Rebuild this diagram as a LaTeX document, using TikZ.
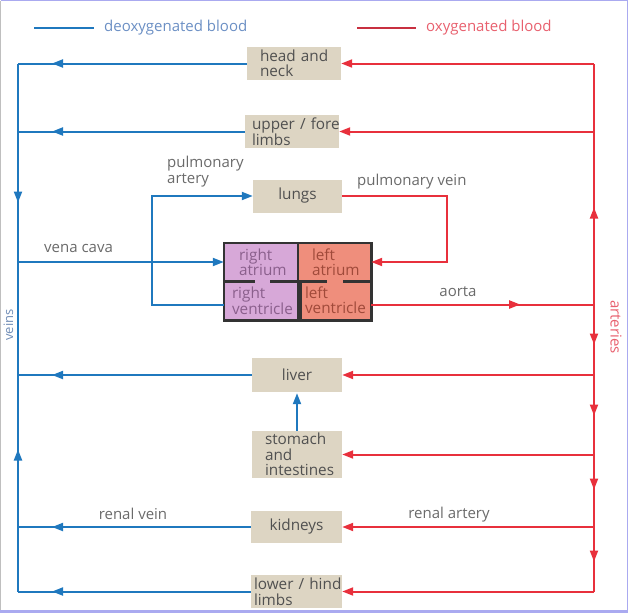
\documentclass[tikz,border=0pt]{standalone}
\usepackage{fontspec}
\setmainfont{Open Sans}
\usetikzlibrary{arrows.meta,decorations.markings}
\definecolor{bl}{HTML}{1F78BE}
\definecolor{rd}{HTML}{E8303C}
\definecolor{tanbox}{HTML}{DDD5C3}
\definecolor{pur}{HTML}{D7A8D8}
\definecolor{sal}{HTML}{EF8E7C}
\definecolor{txt}{HTML}{505050}
\definecolor{lbl}{HTML}{6A6A6A}
\definecolor{purtxt}{HTML}{8A5F8C}
\definecolor{saltxt}{HTML}{A04A3A}
\definecolor{legb}{HTML}{6B8FC4}
\definecolor{legr}{HTML}{E8606E}
\definecolor{legrl}{HTML}{C83040}
\definecolor{frame}{HTML}{AAAAF0}
\begin{document}
\begin{tikzpicture}[x=1pt,y=-1pt,
  >={Triangle[length=11pt,width=8pt]},
  bline/.style={draw=bl,line width=2pt},
  rline/.style={draw=rd,line width=2pt},
  mk/.style={postaction={decorate},decoration={markings,mark=at position #1 with {\arrow{>}}}},
  box/.style={fill=tanbox,text=txt,align=left,inner ysep=0pt,font=\fontsize{15.3}{15.5}\selectfont},
  chamber/.style={inner ysep=0pt,align=left,font=\fontsize{15.3}{15}\selectfont},
  lab/.style={text=lbl,font=\fontsize{15}{16}\selectfont,inner sep=0pt},
  heartline/.style={draw=black!80,line width=2.6pt}
]
\useasboundingbox (0,0) rectangle (628,614);
\draw[frame,line width=1.2pt] (0.6,0.6) -- (627.4,0.6) -- (627.4,611);
\draw[frame,line width=3pt] (0,611.5) -- (628,611.5);
\draw[black!25,line width=0.6pt] (0.6,0.6) -- (0.6,610);

% legend
\coordinate (lb1) at (34,28); \coordinate (lb2) at (94,28);
\coordinate (lr1) at (357,28); \coordinate (lr2) at (416,28);
\draw[bline] (lb1) -- (lb2);
\draw[draw=legrl,line width=2pt] (lr1) -- (lr2);
\node[anchor=west,inner sep=0pt,text=legb,font=\fontsize{15}{16}\selectfont] (legd) at (104,28) {deoxygenated blood};
\node[anchor=west,inner sep=0pt,text=legr,font=\fontsize{15}{16}\selectfont] (lego) at (426,28) {oxygenated blood};

% organ boxes
\node[box,minimum height=33pt,text width=68pt,inner xsep=13pt] (head) at (294,63.5) {\mbox{head and}\\neck};
\node[box,minimum height=33pt,text width=80pt,inner xsep=7pt] (upper) at (292,131.5) {\mbox{upper / fore}\\limbs};
\node[box,minimum height=33pt,text width=79pt,inner xsep=5pt,align=center] (lungs) at (297.5,196) {lungs};
\node[box,minimum height=34pt,text width=80pt,inner xsep=5pt,align=center] (liver) at (297,375) {liver};
\node[box,minimum height=47pt,text width=64pt,inner xsep=13pt] (stomach) at (297,454.5) {\mbox{stomach}\\and\\\mbox{intestines}};
\node[box,minimum height=32pt,text width=81pt,inner xsep=5pt,align=center] (kidneys) at (296.5,527) {kidneys};
\node[box,minimum height=33pt,text width=85pt,inner xsep=3pt] (lower) at (296.5,591.5) {\mbox{lower / hind}\\limbs};

% heart
\node[chamber,fill=pur,text=purtxt,minimum height=38pt,text width=44pt,inner xsep=15pt] (ra) at (261,262) {right\\\mbox{atrium}};
\node[chamber,fill=pur,text=purtxt,minimum height=39pt,text width=58pt,inner xsep=8pt] (rv) at (261,300.5) {right\\\mbox{ventricle}};
\node[chamber,fill=sal,text=saltxt,minimum height=38pt,text width=45pt,inner xsep=14pt] (la) at (334.5,262) {left\\\mbox{atrium}};
\node[chamber,fill=sal,text=saltxt,minimum height=39pt,text width=59pt,inner xsep=7pt] (lv) at (334.5,300.5) {left\\\mbox{ventricle}};
\draw[heartline,line width=1.8pt] (ra.north east) -- (rv.south east);
\draw[heartline] (ra.south west) -- ++(31,0);
\draw[heartline] (ra.south east) -- ++(-28,0);
\draw[heartline] (la.south west) -- ++(29,0);
\draw[heartline] (la.south east) -- ++(-28,0);
\draw[heartline] ([xshift=2.5pt]lv.north west) -- ([xshift=2.5pt]lv.south west);
\draw[heartline] (ra.north west) rectangle (lv.south east);

% junction coordinates
\coordinate (vx) at (18,0);
\coordinate (ax) at (594,0);
\coordinate (pa) at (152,0);
\coordinate (pv) at (447,0);
\coordinate (vh) at (head.west -| vx);
\coordinate (vu) at (upper.west -| vx);
\coordinate (vc) at (ra.west -| vx);
\coordinate (vli) at (liver.west -| vx);
\coordinate (vk) at (kidneys.west -| vx);
\coordinate (vlo) at (lower.west -| vx);
\coordinate (ah) at (head.east -| ax);
\coordinate (au) at (upper.east -| ax);
\coordinate (aj) at ([yshift=-4pt]lv.east -| ax);
\coordinate (ali) at (liver.east -| ax);
\coordinate (ast) at (stomach.east -| ax);
\coordinate (ak) at (kidneys.east -| ax);
\coordinate (alo) at (lower.east -| ax);
\coordinate (pa1) at ([yshift=-4pt]rv.west -| pa);
\coordinate (pa2) at (lungs.west -| pa);
\coordinate (pv1) at (lungs.east -| pv);
\coordinate (pv2) at (la.east -| pv);

% deoxygenated (blue)
\draw[bline,mk=-34pt] (head.west) -- (vh);
\draw[bline,mk=-34pt] (upper.west) -- (vu);
\draw[bline,mk=-34pt] (liver.west) -- (vli);
\draw[bline,mk=-34pt] (kidneys.west) -- (vk);
\draw[bline,mk=-34pt] (lower.west) -- (vlo);
\draw[bline,mk=139pt] (vh) -- (vc);
\draw[bline,mk=142pt] (vlo) -- (vc);
\draw[bline,->] (vc) -- (ra.west);
\draw[bline,->] ([yshift=-4pt]rv.west) -- (pa1) -- (pa2) -- (lungs.west);
\draw[bline,->,shorten >=1pt] (stomach.north) -- (liver.south);

% oxygenated (red)
\draw[rline,->] (lungs.east) -- (pv1) -- (pv2) -- (la.east);
\draw[rline,mk=149pt] ([yshift=-4pt]lv.east) -- (aj);
\draw[rline,mk=97pt] (aj) -- (ah);
\draw[rline,postaction={decorate},decoration={markings,
  mark=at position 40pt with {\arrow{>}},
  mark=at position 111pt with {\arrow{>}},
  mark=at position 185pt with {\arrow{>}},
  mark=at position 257pt with {\arrow{>}}}] (aj) -- (alo);
\draw[rline,->] (ah) -- (head.east);
\draw[rline,->] (au) -- (upper.east);
\draw[rline,->] (ali) -- (liver.east);
\draw[rline,->] (ast) -- (stomach.east);
\draw[rline,->] (ak) -- (kidneys.east);
\draw[rline,->] (alo) -- (lower.east);

% labels
\node[lab,anchor=north west,align=left] (lpa) at (167,156) {pulmonary\\artery};
\node[lab,anchor=west] (lpv) at (357,182) {pulmonary vein};
\node[lab,anchor=west] (lvc) at (44,248) {vena cava};
\node[lab] (lao) at (458,292) {aorta};
\node[lab] (lrv) at (133,514) {renal vein};
\node[lab] (lra) at (449,515) {renal artery};
\node[lab,text=legr,rotate=-90] (lart) at (616,327) {arteries};
\node[lab,text=legb!80!gray,rotate=90,font=\fontsize{13}{14}\selectfont] (lvei) at (8.5,325) {veins};
\end{tikzpicture}
\end{document}
